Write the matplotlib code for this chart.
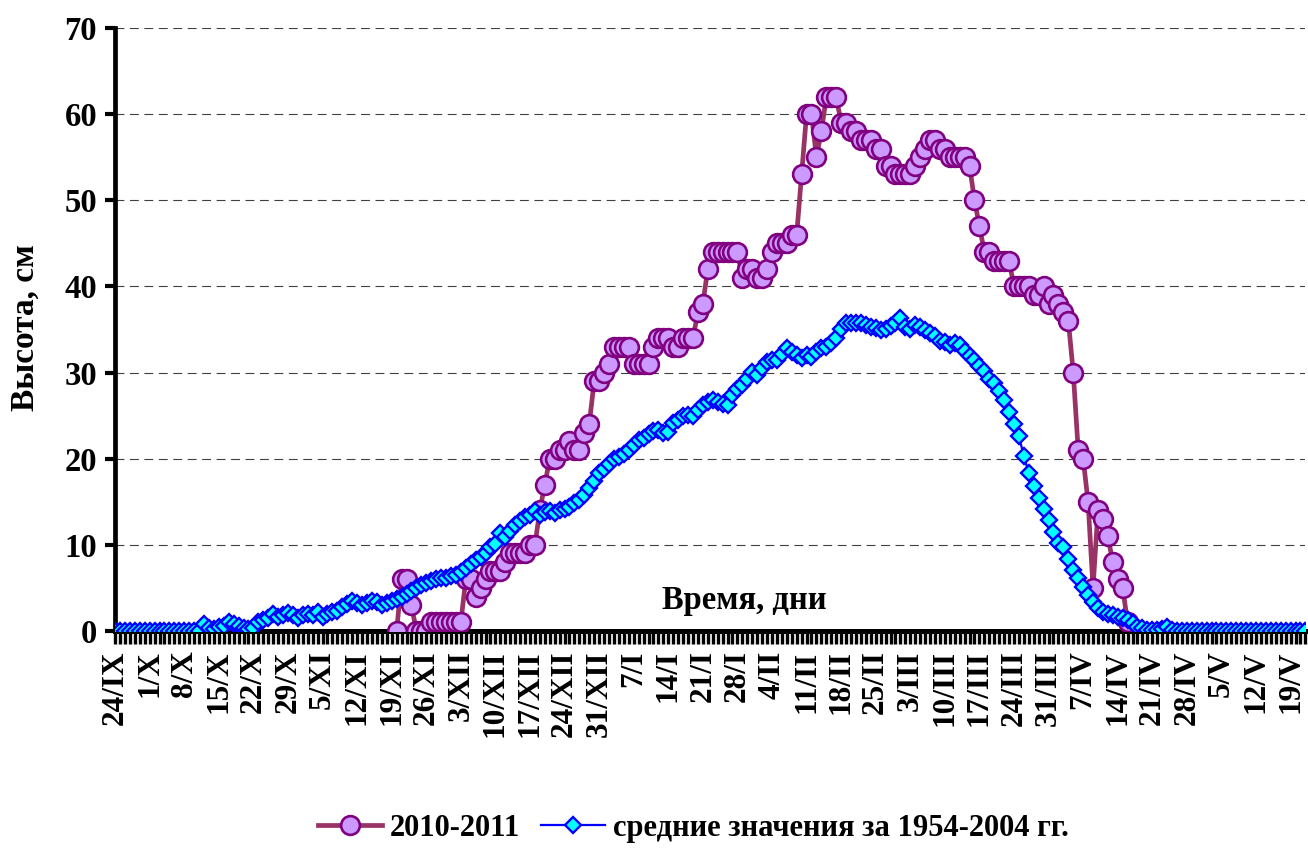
import matplotlib

matplotlib.use("Agg")
import matplotlib.pyplot as plt
import numpy as np

# weekly tick labels, one every 7 days starting 24/IX (day 0)
week_labels = [
    "24/IX", "1/X", "8/X", "15/X", "22/X", "29/X", "5/XI", "12/XI", "19/XI",
    "26/XI", "3/XII", "10/XII", "17/XII", "24/XII", "31/XII", "7/I", "14/I",
    "21/I", "28/I", "4/II", "11/II", "18/II", "25/II", "3/III", "10/III",
    "17/III", "24/III", "31/III", "7/IV", "14/IV", "21/IV", "28/IV", "5/V",
    "12/V", "19/V",
]

# 2010-2011 season, daily values starting at day 57
snow_2010_start = 57
snow_2010 = [
    0, 6, 6, 3, 0, 0, 0, 1, 1, 1, 1, 1, 1, 1, 6, 6, 4, 5, 6, 7,
    7, 7, 8, 9, 9, 9, 9, 10, 10, 14, 17, 20, 20, 21, 21, 22, 21, 21, 23, 24,
    29, 29, 30, 31, 33, 33, 33, 33, 31, 31, 31, 31, 33, 34, 34, 34, 33, 33, 34, 34,
    34, 37, 38, 42, 44, 44, 44, 44, 44, 44, 41, 42, 42, 41, 41, 42, 44, 45, 45, 45,
    46, 46, 53, 60, 60, 55, 58, 62, 62, 62, 59, 59, 58, 58, 57, 57, 57, 56, 56, 54,
    54, 53, 53, 53, 53, 54, 55, 56, 57, 57, 56, 56, 55, 55, 55, 55, 54, 50, 47, 44,
    44, 43, 43, 43, 43, 40, 40, 40, 40, 39, 39, 40, 38, 39, 38, 37, 36, 30, 21, 20,
    15, 5, 14, 13, 11, 8, 6, 5, 1,
]

# mean 1954-2004, daily values from day 0
snow_mean = [
    0, 0, 0, 0, 0, 0, 0, 0, 0, 0, 0, 0, 0, 0, 0, 0, 0, 0, 0.8, 0.3,
    0.2, 0.5, 0.6, 1.0, 0.8, 0.6, 0.3, 0.2, 0.4, 1.0, 1.3, 1.5, 2.0, 1.6, 1.8, 2.1, 1.9, 1.5, 1.8, 2.0,
    1.9, 2.2, 1.6, 2.0, 2.2, 2.3, 2.8, 3.1, 3.5, 3.2, 3.0, 3.2, 3.5, 3.4, 3.0, 3.2, 3.5, 3.7, 4.0, 4.3,
    4.6, 5.0, 5.3, 5.6, 5.8, 6.0, 6.1, 6.2, 6.4, 6.5, 6.9, 7.3, 7.8, 8.2, 8.6, 9.0, 9.7, 10.1, 11.4, 10.9,
    11.6, 12.3, 12.8, 13.2, 13.5, 13.9, 13.5, 13.8, 13.9, 13.7, 14.0, 14.2, 14.4, 14.8, 15.2, 15.8, 16.6, 17.4, 18.3, 18.8,
    19.4, 20.0, 20.2, 20.5, 21.0, 21.6, 22.2, 22.4, 22.9, 23.2, 23.3, 23.0, 23.1, 24.1, 24.5, 24.9, 25.1, 24.9, 25.7, 26.2,
    26.6, 26.8, 26.6, 26.4, 26.2, 27.4, 28.1, 28.6, 29.2, 30.1, 29.7, 30.5, 31.2, 31.5, 31.5, 32.2, 32.8, 32.4, 32.0, 31.7,
    32.0, 31.8, 32.4, 32.8, 33.0, 33.4, 34.0, 35.0, 35.8, 35.8, 35.7, 35.7, 35.5, 35.3, 35.2, 34.9, 35.0, 35.4, 35.8, 36.3,
    35.3, 35.0, 35.5, 35.3, 34.9, 34.6, 34.2, 33.7, 33.5, 33.2, 33.4, 33.2, 32.5, 31.9, 31.4, 30.8, 30.2, 29.2, 28.8, 27.9,
    26.8, 25.4, 24.0, 22.6, 20.3, 18.3, 16.8, 15.4, 14.2, 12.9, 11.5, 10.2, 9.8, 8.3, 7.1, 6.1, 5.1, 4.2, 3.4, 2.7,
    2.2, 2.0, 1.8, 1.6, 1.5, 1.3, 0.9, 0.5, 0.3, 0.1, 0.1, 0.1, 0.2, 0.5, 0.1, 0, 0, 0, 0, 0,
    0, 0, 0, 0, 0, 0, 0, 0, 0, 0, 0, 0, 0, 0, 0, 0, 0, 0, 0, 0,
    0, 0,
]

plt.rcParams["font.family"] = ["Liberation Serif", "DejaVu Serif"]
plt.rcParams["font.weight"] = "bold"

fig = plt.figure(figsize=(13.08, 8.52), dpi=100)
ax = fig.add_axes([0.088, 0.2594, 0.910, 0.7078])

days_mean = np.arange(len(snow_mean))
days_2010 = np.arange(snow_2010_start, snow_2010_start + len(snow_2010))

ax.plot(days_2010, snow_2010, color="#993366", linewidth=3.4, marker="o",
        markersize=13.5, markerfacecolor="#CC99FF", markeredgecolor="#800080",
        markeredgewidth=1.9, label="2010-2011", zorder=3)
ax.plot(days_mean, snow_mean, color="#0000FF", linewidth=1.6, marker="D",
        markersize=8, markerfacecolor="#00FFFF", markeredgecolor="#0000FF",
        markeredgewidth=1.7, label="средние значения за 1954-2004 гг.", zorder=4)

ax.set_xlim(0, len(snow_mean) - 1)
ax.set_ylim(0, 70)
ax.set_yticks(np.arange(0, 71, 10))
ax.yaxis.grid(True, linestyle=(0, (8, 5)), color="#404040", linewidth=0.8)
ax.set_axisbelow(True)

ax.set_xticks(np.arange(len(week_labels)) * 7)
ax.set_xticklabels(week_labels, rotation=90, fontsize=22.5, fontweight="bold")
ax.set_xticks(days_mean, minor=True)
ax.tick_params(axis="x", which="both", direction="out", length=9, width=2.4, pad=5)
ax.tick_params(axis="y", direction="out", length=7, width=3, labelsize=23.5, pad=6)
for lbl in ax.get_yticklabels():
    lbl.set_fontweight("bold")

for side in ["top", "right"]:
    ax.spines[side].set_visible(False)
ax.spines["left"].set_linewidth(3.4)
ax.spines["bottom"].set_linewidth(3.6)

ax.text(0.529, 0.05, "Время, дни", transform=ax.transAxes, ha="center",
        va="center", fontsize=23.5, fontweight="bold")
fig.text(25 / 1308, 1 - 328 / 852, "Высота, см", rotation=90, ha="center",
         va="center", fontsize=24, fontweight="bold")

fig.legend(loc="center", bbox_to_anchor=(0.53, 0.028), ncol=2, frameon=False,
           handlelength=2.1, columnspacing=0.7, handletextpad=0.25,
           prop={"weight": "bold", "size": 22})

fig.savefig("out.png", dpi=100)
